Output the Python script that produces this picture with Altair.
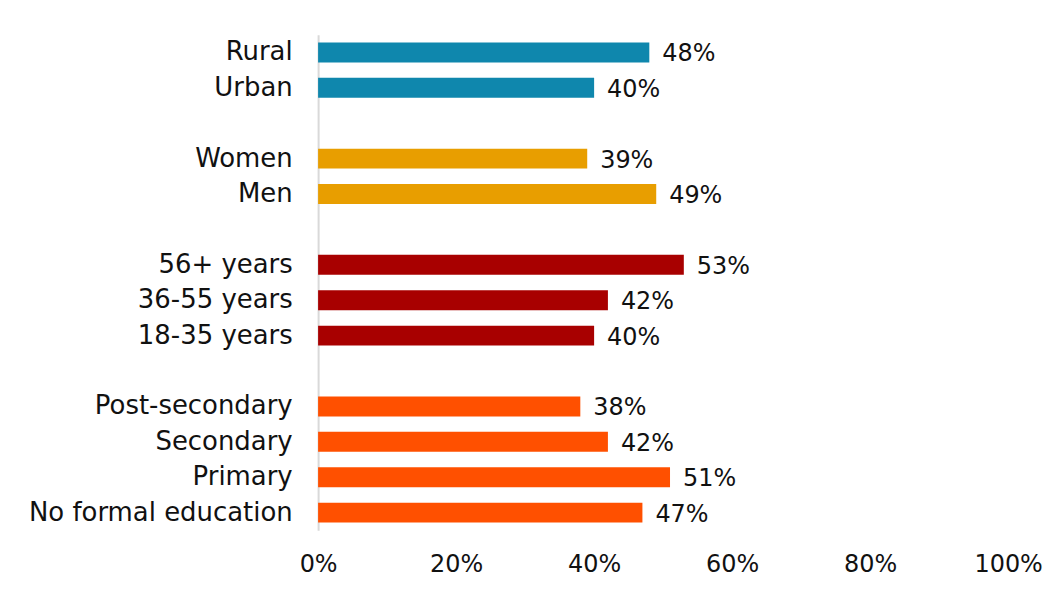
import altair as alt
import pandas as pd

categories = ["Rural", "Urban", " ", "Women", "Men", "  ", "56+ years", "36-55 years", "18-35 years", "   ",
              "Post-secondary", "Secondary", "Primary", "No formal education"]
values = [48, 40, None, 39, 49, None, 53, 42, 40, None, 38, 42, 51, 47]
groups = ["Location", "Location", None, "Gender", "Gender", None, "Age", "Age", "Age", None,
          "Education", "Education", "Education", "Education"]
group_names = ["Location", "Gender", "Age", "Education"]
group_colors = ["#0F87AD", "#E89E00", "#A80000", "#FF5000"]
x_ticks = [0, 20, 40, 60, 80, 100]

rows = [
    {"category": c, "value": v, "group": g, "label": f"{v}%"}
    for c, v, g in zip(categories, values, groups) if v is not None
]
df = pd.DataFrame(rows)

FONT = "DejaVu Sans"

y_enc = alt.Y("category:N", sort=categories,
              scale=alt.Scale(domain=categories, paddingInner=0, paddingOuter=0),
              axis=alt.Axis(title=None, ticks=False, tickSize=0, labelPadding=26,
                            labelFontSize=26, labelFont=FONT, labelColor="#111111",
                            labelLimit=400, domainColor="#d9d9d9", domainWidth=2,
                            grid=False))
x_enc = alt.X("value:Q", scale=alt.Scale(domain=[0, 100], nice=False),
              axis=alt.Axis(title=None, values=x_ticks, labelFlush=False,
                            labelExpr="datum.value + '%'", ticks=False, tickSize=0,
                            domain=False, grid=False, labelPadding=22,
                            labelFontSize=24, labelFont=FONT, labelColor="#111111"))

bars = alt.Chart(df).mark_bar(size=20).encode(
    x=x_enc,
    y=y_enc,
    color=alt.Color("group:N", scale=alt.Scale(domain=group_names, range=group_colors), legend=None),
)

text = alt.Chart(df).mark_text(align="left", baseline="middle", dx=13, dy=2,
                               fontSize=24, font=FONT, color="#111111").encode(
    x="value:Q",
    y=alt.Y("category:N", sort=categories),
    text="label:N",
)

chart = (bars + text).properties(
    width=692, height=497,
    autosize=alt.AutoSizeParams(type="none"),
    padding={"left": 311, "top": 26, "right": 44, "bottom": 50},
    background="white",
).configure_view(stroke=None)

chart.save("out.html", embed_options={"renderer": "svg", "actions": False})
